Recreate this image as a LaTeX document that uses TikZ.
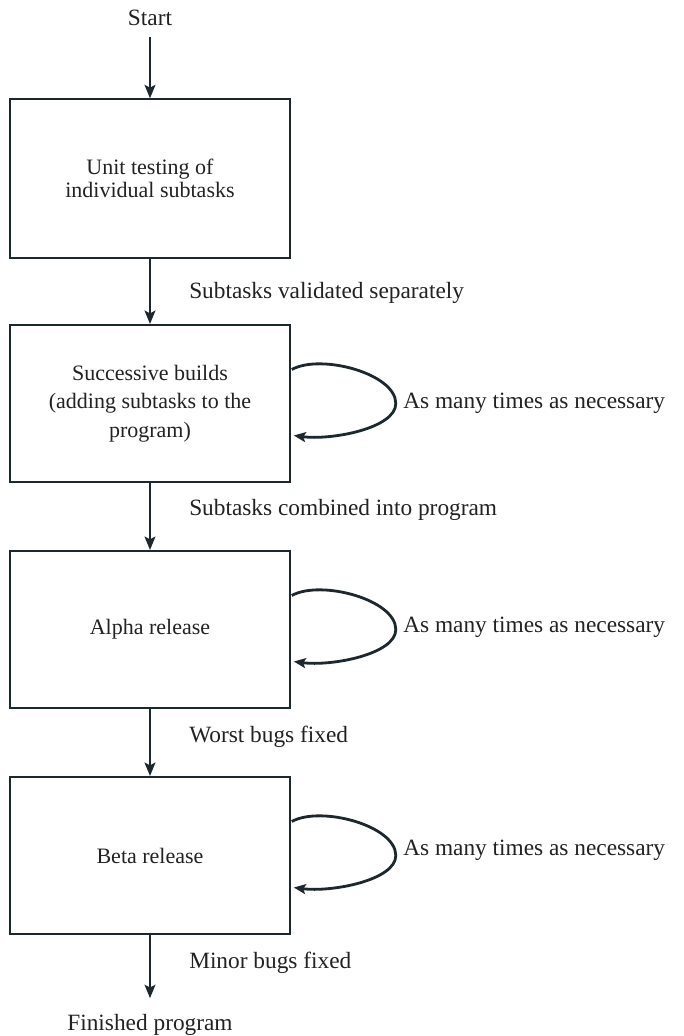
\documentclass[tikz,border=0pt]{standalone}
\usepackage{fontspec}
\setmainfont{Liberation Serif}
\usetikzlibrary{arrows.meta}
\definecolor{ink}{RGB}{28,40,46}
\definecolor{txt}{RGB}{34,34,34}
\begin{document}
\begin{tikzpicture}[x=0.75pt,y=0.75pt,
  stage/.style={draw=ink,line width=1.2pt,fill=white,minimum width=210pt,minimum height=118pt,
    align=center,text=txt,font=\fontsize{16.5}{18}\selectfont,inner sep=0pt},
  lbl/.style={text=txt,font=\fontsize{17.5}{21}\selectfont,inner sep=0pt},
  flow/.style={draw=ink,line width=2.1pt,-{Stealth[length=10pt,width=8pt,inset=2pt]}},
  loopflow/.style={draw=ink,line width=2.1pt,-{Stealth[length=9pt,width=7.5pt,inset=2pt]}}]
\fill[white] (0,0) rectangle (683,1036);
\useasboundingbox (0,0) rectangle (683,1036);

% start / end
\node[lbl,inner sep=8pt] (start) at (150,1018) {Start};
\node[lbl,anchor=base,inner ysep=11.5pt] (fin) at (150,6) {Finished program};

% stages
\node[stage,minimum height=119pt,font=\fontsize{16.5}{17.5}\selectfont] (b1) at (150,857.5)
  {Unit testing of\\ individual subtasks};
\node[stage,font=\fontsize{16.5}{21.5}\selectfont] (b2) at (150,632.5)
  {Successive builds\\ (adding subtasks to the\\ program)};
\node[stage] (b3) at (150,406.5) {Alpha release};
\node[stage] (b4) at (150,180.5) {Beta release};

% main flow
\draw[flow] (start) -- (b1);
\draw[flow] (b1) -- (b2);
\draw[flow] (b2) -- (b3);
\draw[flow] (b3) -- (b4);
\draw[flow] (b4.south) -- (b4.south |- fin.north);

% flow labels
\node[lbl,anchor=west] (l1) at (189,743) {Subtasks validated separately};
\node[lbl,anchor=west] (l2) at (189,526) {Subtasks combined into program};
\node[lbl,anchor=west] (l3) at (189,299) {Worst bugs fixed};
\node[lbl,anchor=west] (l4) at (189,73) {Minor bugs fixed};

% self loops
\foreach \b in {b2,b3,b4}{
  \draw[loopflow] ([shift={(1,34)}]\b.east)
    .. controls ([shift={(30,50)}]\b.east) and ([shift={(105,30)}]\b.east) .. ([shift={(105,0)}]\b.east)
    .. controls ([shift={(105,-25)}]\b.east) and ([shift={(40,-37)}]\b.east) .. ([shift={(3,-32)}]\b.east);
}
\node[lbl,anchor=west] (r2) at (403,633) {As many times as necessary};
\node[lbl,anchor=west] (r3) at (403,409) {As many times as necessary};
\node[lbl,anchor=west] (r4) at (403,186) {As many times as necessary};
\end{tikzpicture}
\end{document}
